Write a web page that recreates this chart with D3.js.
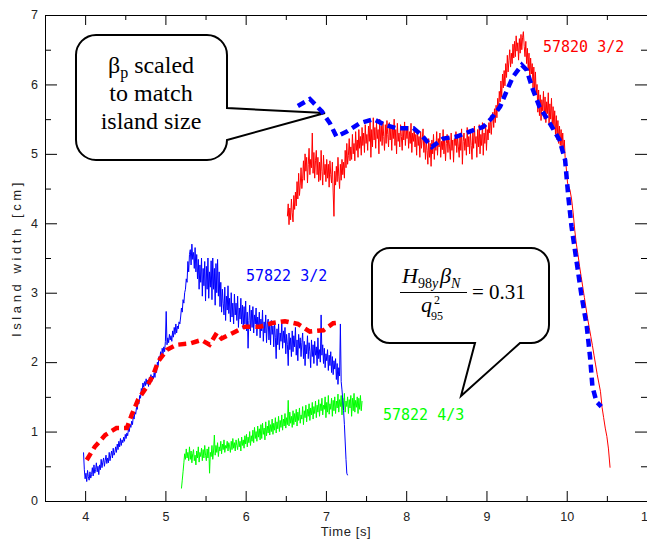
<!DOCTYPE html>
<html>
<head>
<meta charset="utf-8">
<script src="https://cdn.jsdelivr.net/npm/d3@7"></script>
<style>
  html, body { margin: 0; padding: 0; background: #fff; }
  svg { display: block; }
</style>
</head>
<body>
<script>
// ---------------- DATA ----------------
const xTicks = [4, 5, 6, 7, 8, 9, 10, 11];
const yTicks = [0, 1, 2, 3, 4, 5, 6, 7];
const xMinor = [3.5, 4.5, 5.5, 6.5, 7.5, 8.5, 9.5, 10.5];
const yMinor = [0.5, 1.5, 2.5, 3.5, 4.5, 5.5, 6.5];

// 57820 3/2 island width, noisy part (every 0.01 s from 6.52 s)
const shot57820Start = 6.52;
const shot57820Step = 0.01;
const shot57820 = [
  4.10,4.28,3.98,4.22,4.05,4.35,4.15,4.02,4.40,4.20,
  4.45,4.25,4.60,4.35,4.72,4.40,4.55,4.80,4.50,4.65,
  4.90,4.62,5.00,4.75,4.95,4.58,4.85,5.08,4.70,4.92,
  4.80,5.30,4.72,5.02,4.65,4.90,5.05,4.70,4.95,4.60,
  4.88,4.62,5.05,4.75,4.55,4.98,4.70,4.85,4.60,4.92,
  4.65,4.85,4.52,4.90,4.70,4.58,4.88,4.45,4.10,4.75,
  4.55,4.82,4.60,4.95,4.68,4.50,4.85,4.62,4.92,4.70,
  4.88,4.65,5.05,4.80,5.15,4.85,4.98,5.22,4.90,5.10,
  4.92,5.28,5.00,5.15,4.90,5.32,5.05,5.20,4.95,5.35,
  5.08,5.25,4.98,5.38,5.12,5.30,5.02,5.42,5.15,5.28,
  5.05,5.40,5.18,5.48,4.95,5.35,5.10,5.52,5.20,5.38,
  5.08,5.45,5.22,5.35,5.00,5.50,5.18,5.40,5.12,5.46,
  5.25,5.05,5.42,5.15,5.48,5.28,5.10,5.45,5.20,5.38,
  5.05,5.40,5.22,5.50,5.12,5.35,5.00,5.44,5.18,5.30,
  5.10,5.42,5.25,5.05,5.38,5.20,5.46,5.12,5.35,5.22,
  5.40,5.08,5.32,5.15,5.44,5.02,5.30,5.18,5.38,5.10,
  5.28,4.98,5.35,5.12,5.25,4.95,5.32,5.08,5.22,5.36,
  5.02,5.25,4.92,5.18,5.05,4.85,5.22,4.95,5.15,4.82,
  5.20,5.00,5.28,4.92,5.15,5.05,5.32,4.98,5.22,5.10,
  5.30,4.95,5.18,5.06,5.35,5.00,5.24,4.90,5.15,5.28,
  5.02,5.25,5.10,4.92,5.30,5.05,5.20,4.88,5.22,5.12,
  5.32,5.02,5.25,5.10,4.95,5.28,5.05,5.36,4.85,5.18,
  5.30,5.05,5.22,4.98,5.38,5.10,5.25,5.00,5.32,5.12,
  4.92,5.30,5.08,5.40,5.15,5.25,4.95,5.35,5.10,5.42,
  5.00,5.28,5.12,5.45,4.98,5.30,5.15,5.42,5.05,5.35,
  5.20,5.45,5.30,5.55,5.28,5.48,5.60,5.38,5.65,5.45,
  5.70,5.52,5.80,5.62,5.90,5.75,6.05,5.82,6.15,5.95,
  6.20,5.98,6.30,6.10,6.42,6.18,6.35,6.50,6.25,6.45,
  6.30,6.58,6.38,6.62,6.40,6.70,6.48,6.60,6.35,6.66,
  6.45,6.72,6.50,6.68,6.76,6.55,6.40,6.62,6.30,6.52,
  6.20,6.45,6.05,6.38,6.15,6.30,5.95,6.25,5.90,6.18,
  5.85,6.00,5.60,5.92,5.55,5.85,5.48,5.78,5.62,5.90,
  5.50,5.82,5.45,5.75,5.58,5.88,5.42,5.72,5.50,5.80,
  5.40,5.68,5.35,5.62,5.28,5.55,5.20,5.48,5.15,5.40,
  5.12,5.35,5.08,5.30,5.05,5.20,4.95,4.85,4.72,4.58
];
// 57820 3/2, final collapse
const shot57820DropT = [10.04,10.06,10.08,10.10,10.12,10.14,10.16,10.18,10.20,10.22,10.24,10.26,10.28,10.30,10.32,10.34,10.36,10.38,10.40,10.42,10.44,10.46,10.48,10.50,10.52,10.54];
const shot57820DropV = [4.48,4.35,4.15,3.90,3.70,3.55,3.38,3.23,3.08,2.93,2.78,2.63,2.50,2.37,2.24,2.10,1.96,1.82,1.70,1.58,1.35,1.20,1.05,0.93,0.75,0.48];

// 57822 3/2 island width (every 0.01 s from 3.98 s)
const shot57822aStart = 3.98;
const shot57822aStep = 0.01;
const shot57822m32 = [
  0.70,0.45,0.32,0.40,0.28,0.44,0.35,0.30,0.42,0.33,
  0.38,0.48,0.36,0.52,0.40,0.45,0.55,0.42,0.50,0.38,
  0.52,0.45,0.60,0.48,0.56,0.62,0.50,0.58,0.66,0.54,
  0.62,0.55,0.70,0.58,0.66,0.72,0.62,0.76,0.66,0.70,
  0.78,0.70,0.82,0.74,0.86,0.78,0.90,0.80,0.88,0.84,
  0.92,0.86,0.96,0.90,0.98,0.94,1.04,1.00,1.10,1.06,
  1.15,1.10,1.22,1.18,1.28,1.25,1.35,1.32,1.45,1.40,
  1.52,1.48,1.62,1.58,1.70,1.64,1.72,1.66,1.76,1.68,
  1.74,1.65,1.78,1.70,1.82,1.72,1.80,1.76,1.85,1.78,
  1.92,1.85,2.00,1.95,2.08,2.02,2.15,2.06,2.20,2.12,
  2.22,2.15,2.30,2.73,2.25,2.35,2.28,2.40,2.32,2.38,
  2.30,2.45,2.36,2.50,2.40,2.55,2.42,2.52,2.48,2.58,
  2.55,2.65,2.78,2.72,2.90,2.85,3.00,3.05,3.20,3.15,
  3.45,3.30,3.55,3.62,3.40,3.70,3.48,3.58,3.35,3.65,
  3.30,3.55,3.20,3.48,3.05,3.40,3.15,3.50,2.95,3.35,
  3.10,3.45,2.88,3.38,3.05,3.50,2.92,3.30,3.08,3.46,
  2.90,3.50,3.05,3.35,2.82,3.42,3.00,3.48,2.95,3.30,
  2.80,3.15,2.72,3.05,2.85,2.68,3.08,2.60,2.95,2.75,
  3.10,2.70,2.92,2.58,3.00,2.65,2.85,2.55,2.98,2.68,
  2.85,2.60,2.95,2.50,2.78,2.62,2.92,2.55,2.82,2.48,
  2.80,2.55,2.88,2.45,2.72,2.20,2.60,2.82,2.45,2.75,
  2.50,2.80,2.42,2.68,2.55,2.78,2.38,2.65,2.48,2.72,
  2.35,2.62,2.45,2.75,2.30,2.58,2.42,2.68,2.28,2.55,
  2.62,2.32,2.55,2.25,2.60,2.40,2.52,2.22,2.58,2.35,
  2.05,2.48,2.25,2.55,2.18,2.42,2.30,2.58,2.20,2.45,
  2.28,2.50,2.12,2.40,2.25,1.95,2.42,2.18,2.35,2.08,
  2.45,2.15,2.38,2.22,2.50,2.10,2.32,2.02,2.40,2.20,
  2.35,2.08,2.28,2.42,2.05,2.30,1.95,2.25,2.12,2.38,
  2.05,2.28,2.15,1.92,2.32,2.08,2.25,1.98,2.30,2.10,
  2.22,1.95,2.35,2.05,2.18,2.00,2.68,2.10,2.25,1.98,
  2.20,1.92,2.12,2.02,2.18,1.88,2.10,1.95,2.15,1.85,
  2.08,1.82,2.02,1.90,2.05,1.75,1.98,1.68,1.92,1.80,
  2.55,1.72,1.60,1.45,1.30,1.10,0.85,0.60,0.40,0.37
];

// 57822 4/3 island width (every 0.01 s from 5.20 s)
const shot57822bStart = 5.20;
const shot57822bStep = 0.01;
const shot57822m43 = [
  0.18,0.30,0.42,0.55,0.68,0.60,0.75,0.62,0.70,0.58,
  0.78,0.60,0.72,0.55,0.68,0.74,0.58,0.66,0.52,0.72,
  0.62,0.78,0.56,0.70,0.64,0.76,0.58,0.74,0.62,0.80,
  0.66,0.58,0.75,0.62,0.78,0.40,0.70,0.64,0.80,0.60,
  0.72,0.95,0.66,0.80,0.70,0.84,0.64,0.78,0.72,0.86,
  0.68,0.82,0.74,0.88,0.70,0.80,0.76,0.86,0.72,0.84,
  0.78,0.70,0.86,0.74,0.90,0.76,0.84,0.72,0.88,0.80,
  0.74,0.90,0.78,0.86,0.72,0.92,0.80,0.88,0.76,0.94,
  0.82,0.96,0.78,0.92,0.84,1.00,0.80,0.94,0.86,1.02,
  0.84,1.06,0.90,1.00,0.86,1.08,0.92,1.04,0.88,1.10,
  0.90,1.12,0.96,1.05,0.88,1.14,0.94,1.08,0.98,1.16,
  0.95,1.10,1.00,1.18,0.96,1.12,1.02,1.20,0.98,1.14,
  1.04,1.22,1.00,1.16,1.06,1.24,1.02,1.18,1.08,1.26,
  1.05,1.20,1.10,1.45,1.08,1.28,1.12,1.22,1.06,1.30,
  1.10,1.26,1.14,1.32,1.08,1.28,1.16,1.34,1.12,1.24,
  1.18,1.36,1.10,1.30,1.20,1.38,1.14,1.32,1.22,1.40,
  1.16,1.34,1.24,1.42,1.18,1.36,1.26,1.44,1.20,1.38,
  1.28,1.46,1.22,1.40,1.30,1.48,1.24,1.38,1.32,1.50,
  1.20,1.42,1.28,1.52,1.25,1.40,1.32,1.48,1.22,1.45,
  1.30,1.50,1.26,1.44,1.34,1.54,1.28,1.46,1.36,1.52,
  1.24,1.48,1.32,1.55,1.28,1.44,1.36,1.50,1.26,1.46,
  1.34,1.52,1.22,1.48,1.30,1.55,1.28,1.45,1.35,1.50,
  1.26,1.48,1.32,1.52,1.30,1.44
];

// beta_p scaled (blue dashed)
const betaT = [6.65,6.80,6.95,7.05,7.13,7.26,7.42,7.59,7.73,7.88,8.09,8.19,8.32,8.46,8.63,8.79,8.96,9.06,9.17,9.25,9.33,9.44,9.50,9.58,9.66,9.79,9.91,9.98,10.02,10.06,10.12,10.18,10.25,10.29,10.32,10.37,10.43];
const betaV = [5.69,5.79,5.61,5.44,5.25,5.32,5.44,5.50,5.42,5.37,5.37,5.27,5.10,5.22,5.25,5.32,5.39,5.51,5.68,5.90,6.11,6.28,6.21,5.92,5.68,5.44,5.20,4.91,4.38,3.95,3.47,2.99,2.51,2.08,1.65,1.43,1.36];

// scaled prediction for 57822 (red dashed)
const predT = [4.02,4.12,4.25,4.39,4.52,4.58,4.66,4.77,4.85,4.91,5.02,5.14,5.31,5.45,5.55,5.64,5.70,5.84,5.99,6.18,6.32,6.49,6.65,6.80,6.97,7.09,7.17];
const predV = [0.59,0.78,0.95,1.05,1.05,1.24,1.46,1.65,1.82,2.01,2.18,2.25,2.27,2.32,2.25,2.42,2.34,2.42,2.51,2.51,2.56,2.59,2.55,2.44,2.46,2.56,2.57];

const labels = ["57820 3/2", "57822 3/2", "57822 4/3"];

// ---------------- CHART ----------------
const W = 647, H = 540;
const svg = d3.select("body").append("svg").attr("width", W).attr("height", H)
  .style("background", "#fff");

const x = d3.scaleLinear().domain([3.5, 11]).range([45, 647]);
const y = d3.scaleLinear().domain([0, 7]).range([501, 15]);

const sansFont = "'Liberation Sans', Arial, Helvetica, sans-serif";
const serifFont = "'Liberation Serif', 'Times New Roman', Times, serif";
const monoFont = "'DejaVu Sans Mono', 'Liberation Mono', monospace";

// ---- callouts (drawn beneath the data) ----
const callouts = svg.append("g").attr("fill", "#fff").attr("stroke", "#000")
  .attr("stroke-width", 2).attr("stroke-linejoin", "miter");
callouts.append("path").attr("d",
  "M96,35 H207 A20,20 0 0 1 227,55 V108 L325,113 L227,140 A20,20 0 0 1 207,160 H96 A20,20 0 0 1 76,140 V55 A20,20 0 0 1 96,35 Z");
callouts.append("path").attr("d",
  "M390,248 H531 A18,18 0 0 1 549,266 V325 A18,18 0 0 1 531,343 H520 L461,396 L475,343 H390 A18,18 0 0 1 372,325 V266 A18,18 0 0 1 390,248 Z");

// callout 1 text
const c1 = svg.append("g").attr("font-family", serifFont).attr("font-size", 24)
  .attr("fill", "#000").attr("text-anchor", "middle");
const l1 = c1.append("text").attr("x", 151).attr("y", 73);
l1.append("tspan").text("β");
l1.append("tspan").attr("font-size", 16).attr("dy", 5).text("p");
l1.append("tspan").attr("dy", -5).text(" scaled");
c1.append("text").attr("x", 151).attr("y", 101).text("to match");
c1.append("text").attr("x", 151).attr("y", 129).text("island size");

// callout 2 formula
const fm = svg.append("g").attr("font-family", serifFont).attr("fill", "#000");
const num = fm.append("text").attr("x", 402).attr("y", 283).attr("font-size", 22);
num.append("tspan").attr("font-style", "italic").text("H");
num.append("tspan").attr("font-size", 14).attr("dy", 5).text("98");
num.append("tspan").attr("font-size", 14).attr("font-style", "italic").text("y");
num.append("tspan").attr("font-style", "italic").attr("dy", -5).attr("dx", 2).text("β");
num.append("tspan").attr("font-size", 14).attr("font-style", "italic").attr("dy", 5).text("N");
fm.append("line").attr("x1", 400).attr("x2", 467).attr("y1", 292.5).attr("y2", 292.5)
  .attr("stroke", "#000").attr("stroke-width", 1);
fm.append("text").attr("x", 421).attr("y", 312).attr("font-size", 22)
  .attr("font-style", "italic").text("q");
fm.append("text").attr("x", 434).attr("y", 304).attr("font-size", 12).text("2");
fm.append("text").attr("x", 431).attr("y", 320).attr("font-size", 12).text("95");
fm.append("text").attr("x", 472).attr("y", 299).attr("font-size", 21).text("=");
fm.append("text").attr("x", 489).attr("y", 299).attr("font-size", 21).text("0.31");

// ---- data lines ----
const line = d3.line().x(d => x(d[0])).y(d => y(d[1]));
const sampled = (start, step, vals) => vals.map((v, i) => [start + i * step, v]);
const paired = (ts, vs) => ts.map((t, i) => [t, vs[i]]);

const dataG = svg.append("g").attr("fill", "none").attr("stroke-linejoin", "round");
dataG.append("path").datum(sampled(shot57822bStart, shot57822bStep, shot57822m43))
  .attr("d", line).attr("stroke", "#00ff00").attr("stroke-width", 1);
dataG.append("path").datum(sampled(shot57822aStart, shot57822aStep, shot57822m32))
  .attr("d", line).attr("stroke", "#0000ff").attr("stroke-width", 1);
dataG.append("path")
  .datum(sampled(shot57820Start, shot57820Step, shot57820).concat(paired(shot57820DropT, shot57820DropV)))
  .attr("d", line).attr("stroke", "#ff0000").attr("stroke-width", 1);
dataG.append("path").datum(paired(predT, predV))
  .attr("d", line).attr("stroke", "#ff0000").attr("stroke-width", 4.5)
  .attr("stroke-dasharray", "8,5").attr("stroke-linejoin", "miter");
dataG.append("path").datum(paired(betaT, betaV))
  .attr("d", line).attr("stroke", "#0000ff").attr("stroke-width", 4.5)
  .attr("stroke-dasharray", "8,5").attr("stroke-linejoin", "miter");

// ---- series labels ----
const lab = svg.append("g").attr("font-family", monoFont).attr("font-size", 15);
lab.append("text").attr("x", 543).attr("y", 52).attr("fill", "#ff0000").text(labels[0]);
lab.append("text").attr("x", 246).attr("y", 281).attr("fill", "#0000ff").text(labels[1]);
lab.append("text").attr("x", 383).attr("y", 420).attr("fill", "#00ff00").text(labels[2]);

// ---- axes ----
const axG = svg.append("g");
function styleAxis(g) {
  g.selectAll("path.domain").attr("stroke", "#000");
  g.selectAll(".tick line").attr("stroke", "#000");
  g.selectAll("text").attr("fill", "#222").attr("font-family", sansFont).attr("font-size", 12.5);
}
// bottom
axG.append("g").attr("transform", "translate(0,501)")
  .call(d3.axisBottom(x).tickValues(xTicks).tickSize(-10).tickSizeOuter(0).tickPadding(11).tickFormat(d3.format("d")))
  .call(styleAxis).call(g => g.select(".domain").remove());
axG.append("g").attr("transform", "translate(0,501)")
  .call(d3.axisBottom(x).tickValues(xMinor).tickSize(-5).tickFormat(""))
  .call(styleAxis).call(g => g.select(".domain").remove());
// top
axG.append("g").attr("transform", "translate(0,15)")
  .call(d3.axisTop(x).tickValues(xTicks).tickSize(-10).tickFormat(""))
  .call(styleAxis).call(g => g.select(".domain").remove());
axG.append("g").attr("transform", "translate(0,15)")
  .call(d3.axisTop(x).tickValues(xMinor).tickSize(-5).tickFormat(""))
  .call(styleAxis).call(g => g.select(".domain").remove());
// left
axG.append("g").attr("transform", "translate(45,0)")
  .call(d3.axisLeft(y).tickValues(yTicks).tickSize(-12).tickPadding(7).tickFormat(d3.format("d")))
  .call(styleAxis).call(g => g.select(".domain").remove())
  .call(g => g.selectAll("text").attr("dy", "0.3em"));
axG.append("g").attr("transform", "translate(45,0)")
  .call(d3.axisLeft(y).tickValues(yMinor).tickSize(-6).tickFormat(""))
  .call(styleAxis).call(g => g.select(".domain").remove());
// right
axG.append("g").attr("transform", "translate(647,0)")
  .call(d3.axisRight(y).tickValues(yTicks).tickSize(-12).tickFormat(""))
  .call(styleAxis).call(g => g.select(".domain").remove());
axG.append("g").attr("transform", "translate(647,0)")
  .call(d3.axisRight(y).tickValues(yMinor).tickSize(-6).tickFormat(""))
  .call(styleAxis).call(g => g.select(".domain").remove());
// frame
axG.append("rect").attr("x", x(3.5) + 0.5).attr("y", y(7) + 0.5)
  .attr("width", x(11) - x(3.5)).attr("height", y(0) - y(7))
  .attr("fill", "none").attr("stroke", "#000").attr("stroke-width", 1);

// axis titles
svg.append("text").attr("x", 346).attr("y", 536).attr("text-anchor", "middle")
  .attr("font-family", sansFont).attr("font-size", 13).attr("fill", "#222")
  .attr("letter-spacing", 0.6).text("Time [s]");
svg.append("text").attr("transform", "translate(21,258) rotate(-90)").attr("text-anchor", "middle")
  .attr("font-family", sansFont).attr("font-size", 13).attr("fill", "#222")
  .attr("letter-spacing", 3.6).text("Island width [cm]");
</script>
</body>
</html>
